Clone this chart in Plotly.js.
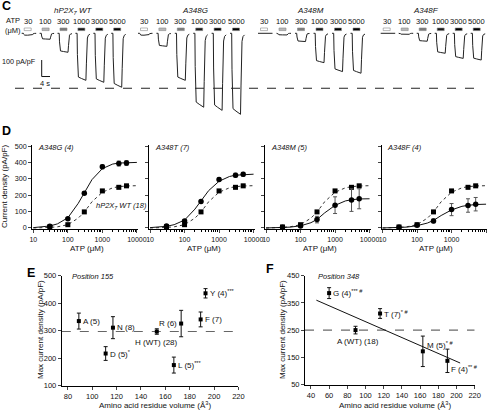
<!DOCTYPE html>
<html><head><meta charset="utf-8">
<script src="https://cdn.plot.ly/plotly-3.0.1.min.js"></script>
<style>html,body{margin:0;padding:0;background:#fff}#chart{width:492px;height:410px}</style>
</head><body><div id="chart"></div>
<script>
// ---------- DATA ----------
// Panel C: example trace peak amplitudes (pA/pF) for each ATP concentration
const concLabels = ['30', '100', '300', '1000', '3000', '5000'];
const groupNames = ['hP2X<sub>7</sub> WT', 'A348G', 'A348M', 'A348F'];
const traceWT = [12, 36, 115, 285, 297, 327];
const traceG  = [12, 79, 285, 448, 467, 491];
const traceM  = [3, 10, 50, 178, 232, 242];
const traceF  = [2, 6, 48, 121, 152, 162];
const dashedRefC = 333;

// Panel D: concentration-response (mean ± SEM)
const atp = [30, 100, 300, 1000, 3000, 5000];
const wtMean = [6, 20, 98, 226, 248, 257];
const wtSem  = [3, 4, 6, 9, 9, 9];
const gMean = [10, 56, 212, 373, 393, 396];
const gSem  = [6, 6, 8, 12, 15, 15];
const tMean = [12, 42, 161, 296, 322, 327];
const tSem  = [5, 6, 8, 10, 12, 12];
const mMean = [4, 12, 51, 139, 170, 178];
const mSem  = [3, 4, 20, 51, 69, 61];
const fMean = [4, 16, 43, 112, 137, 145];
const fSem  = [3, 4, 12, 37, 41, 41];
// fitted curves
const curveX = [10, 20, 30, 50, 100, 200, 300, 500, 1000, 2000, 3000, 5000, 10000];
const fitWT = [0, 1, 3, 7, 20, 60, 97, 160, 218, 245, 252, 256, 258];
const fitG  = [2, 6, 12, 25, 62, 150, 215, 295, 362, 390, 396, 399, 400];
const fitT  = [2, 5, 10, 20, 48, 115, 165, 228, 285, 314, 322, 326, 328];
const fitM  = [0, 1, 3, 5, 13, 32, 52, 92, 138, 165, 172, 177, 178];
const fitF  = [0, 1, 3, 5, 14, 30, 46, 76, 110, 132, 138, 143, 145];
const dTitles = ['A348G (4)', 'A348T (7)', 'A348M (5)', 'A348F (4)'];

// Panel E: position 155
const eLabels = ['A (5)', 'D (5)<sup>*</sup>', 'N (8)', 'H (WT) (28)', 'L (5)<sup>***</sup>', 'R (6)', 'F (7)', 'Y (4)<sup>***</sup>'];
const eVol  = [89, 111, 117, 153, 167, 173, 189, 193];
const eMean = [335, 217, 311, 297, 175, 326, 341, 436];
const eSem  = [29, 25, 40, 10, 29, 48, 27, 17];
const eWT = 297;

// Panel F: position 348
const fLabels = ['G (4)<sup>*** #</sup>', 'A (WT) (18)', 'T (7)<sup>* #</sup>', 'M (5)<sup>* #</sup>', 'F (4)<sup>** #</sup>'];
const fVol  = [60, 89, 116, 163, 190];
const fMeanF = [386, 250, 311, 172, 137];
const fSemF  = [20, 14, 18, 56, 43];
const regX = [46, 204];
const regY = [360, 129];
const fWT = 250;

// ---------- LAYOUT HELPERS ----------
const W = 492, H = 410;
const X = v => v / W;
const Y = v => 1 - v / H;
const FONT = 'Liberation Sans, Arial, sans-serif';
const data = [];
const annotations = [];
const shapes = [];
function txt(text, x, y, opt) {
  annotations.push(Object.assign({text, x: X(x), y: Y(y), xref: 'paper', yref: 'paper',
    showarrow: false, xanchor: 'left', yanchor: 'middle', font: {size: 7.5, family: FONT, color: '#111'}}, opt || {}));
}

// ---------- PANEL C ----------
const cCenters = [[27.7, 17.9], [144, 18.4], [264, 18.5], [386.7, 18.0]];
const cAmps = [traceWT, traceG, traceM, traceF];
const tplDx = [-6, -4.3, -4.0, -3.6, -3.0, 0, 4.5, 5.0, 5.4, 6.0, 7.0, 8.5];
const tplFr = [0, 0, 0.45, 0.88, 0.93, 0.96, 1.0, 0.65, 0.25, 0.10, 0.04, 0.02];
const barFill = ['#ffffff', '#b8b8b8', '#7a7a7a', '#1a1a1a', '#000000', '#000000'];
const groupTitleX = [72.5, 195, 310, 425.5];
cAmps.forEach((amps, g) => {
  const [c0, step] = cCenters[g];
  amps.forEach((a, i) => {
    const c = c0 + step * i;
    data.push({x: tplDx.map(d => c + d), y: tplFr.map(f => -a * f), xaxis: 'x', yaxis: 'y',
      mode: 'lines', line: {color: '#222', width: 1}, hoverinfo: 'skip'});
    txt(concLabels[i], c, 21, {xanchor: 'center'});
    shapes.push({type: 'rect', xref: 'paper', yref: 'paper', x0: X(c - 3.5), x1: X(c + 3.5),
      y0: Y(30.6), y1: Y(28), fillcolor: barFill[i], line: {color: '#888', width: 0.6}});
  });
  txt('<i>' + groupNames[g] + '</i>', groupTitleX[g], 10.5, {xanchor: 'center', font: {size: 8, family: FONT, color: '#111'}});
});
txt('ATP', 4, 20.5);
txt('(μM)', 3, 30.5);
shapes.push({type: 'line', xref: 'x', yref: 'y', x0: 15, x1: 478, y0: -dashedRefC, y1: -dashedRefC,
  line: {color: '#222', width: 1, dash: 'dash'}});
// scale bar
shapes.push({type: 'line', xref: 'x', yref: 'y', x0: 41.7, x1: 41.7, y0: -162, y1: -262, line: {color: '#111', width: 1}});
shapes.push({type: 'line', xref: 'x', yref: 'y', x0: 41.7, x1: 50, y0: -262, y1: -262, line: {color: '#111', width: 1}});
txt('100 pA/pF', 38, 61.5, {xanchor: 'right', font: {size: 7.2, family: FONT, color: '#111'}});
txt('4 s', 45, 84, {xanchor: 'center', font: {size: 7.5, family: FONT, color: '#111'}});
txt('<b>C</b>', 0, 5.5, {font: {size: 12.5, family: FONT, color: '#000'}});

// ---------- PANEL D ----------
const dLefts = [32.3, 149, 265, 381.5];
const dWidth = 105.6;
const dMut = [[gMean, gSem, fitG], [tMean, tSem, fitT], [mMean, mSem, fitM], [fMean, fSem, fitF]];
const minorVals = [];
[10, 100, 1000].forEach(d => { for (let k = 2; k <= 9; k++) minorVals.push(d * k); });
const layoutAxes = {};
dMut.forEach((m, p) => {
  const n = p + 2;
  const xa = 'x' + n, ya = 'y' + n;
  layoutAxes['xaxis' + n] = {type: 'log', range: [0.97, 4.03], domain: [X(dLefts[p]), X(dLefts[p] + dWidth)],
    anchor: ya, showline: true, linecolor: '#000', linewidth: 1, ticks: 'outside', ticklen: 3, tickwidth: 1,
    tickmode: 'array', tickvals: [10, 100, 1000, 10000], ticktext: ['10', '100', '1000', '10000'],
    minor: {tickmode: 'array', tickvals: minorVals, ticks: 'outside', ticklen: 1.5, tickwidth: 1, tickcolor: '#000'},
    showgrid: false, zeroline: false, tickfont: {size: 7, family: FONT, color: '#111'}};
  layoutAxes['yaxis' + n] = {range: [-7, 505], domain: [Y(229.1), Y(145.2)], anchor: xa,
    showline: true, linecolor: '#000', linewidth: 1, ticks: 'outside', ticklen: 3, tickwidth: 1,
    tickmode: 'array', tickvals: [0, 100, 200, 300, 400, 500], showticklabels: p === 0,
    showgrid: false, zeroline: false, tickfont: {size: 7.2, family: FONT, color: '#111'}};
  // WT fit + points
  data.push({x: curveX, y: fitWT, xaxis: xa, yaxis: ya, mode: 'lines', line: {color: '#333', width: 1, dash: 'dot'}, hoverinfo: 'skip'});
  data.push({x: curveX, y: m[2], xaxis: xa, yaxis: ya, mode: 'lines', line: {color: '#111', width: 1}, hoverinfo: 'skip'});
  data.push({x: atp, y: wtMean, xaxis: xa, yaxis: ya, mode: 'markers', cliponaxis: false,
    marker: {symbol: 'square', size: 5, color: '#000'},
    error_y: {type: 'data', array: wtSem, thickness: 1, width: 2, color: '#555'}});
  data.push({x: atp, y: m[0], xaxis: xa, yaxis: ya, mode: 'markers', cliponaxis: false,
    marker: {symbol: 'circle', size: 5.5, color: '#000'},
    error_y: {type: 'data', array: m[1], thickness: 1, width: 2, color: '#555'}});
  txt('<i>' + dTitles[p] + '</i>', dLefts[p] + 3.5, 147.5);
  txt('ATP (μM)', dLefts[p] + dWidth / 2 + 2, 248.5, {xanchor: 'center', font: {size: 8, family: FONT, color: '#111'}});
});
txt('<i>hP2X<sub>7</sub> WT (18)</i>', 94, 206);
txt('Current density (pA/pF)', 5, 187, {xanchor: 'center', textangle: -90, font: {size: 8, family: FONT, color: '#111'}});
txt('<b>D</b>', 0, 130.5, {font: {size: 12.5, family: FONT, color: '#000'}});

// ---------- PANEL E ----------
const axisCommon = {showline: true, linecolor: '#000', linewidth: 1, ticks: 'outside', ticklen: 3, tickwidth: 1,
  showgrid: false, zeroline: false, tickfont: {size: 7.5, family: FONT, color: '#111'}};
layoutAxes.xaxis6 = Object.assign({}, axisCommon, {range: [75, 220], domain: [X(61.8), X(238.4)], anchor: 'y6',
  tickmode: 'linear', tick0: 80, dtick: 20});
layoutAxes.yaxis6 = Object.assign({}, axisCommon, {range: [100, 500], domain: [Y(385.7), Y(275.7)], anchor: 'x6',
  tickmode: 'linear', tick0: 100, dtick: 100});
data.push({x: [75, 220], y: [eWT, eWT], xaxis: 'x6', yaxis: 'y6', mode: 'lines',
  line: {color: '#666', width: 1.2, dash: 'dash'}, hoverinfo: 'skip'});
data.push({x: eVol, y: eMean, xaxis: 'x6', yaxis: 'y6', mode: 'markers', cliponaxis: false,
  marker: {symbol: 'square', size: 4, color: '#000'},
  error_y: {type: 'data', array: eSem, thickness: 1, width: 2, color: '#111'}});
const eAnch = ['r', 'r', 'r', 'b', 'r', 'l', 'r', 'r'];
eLabels.forEach((t, i) => {
  const a = {text: t, x: eVol[i], y: eMean[i], xref: 'x6', yref: 'y6', showarrow: false,
    font: {size: 8, family: FONT, color: '#111'}, yanchor: 'middle'};
  if (eAnch[i] === 'r') { a.xanchor = 'left'; a.xshift = 2; }
  else if (eAnch[i] === 'l') { a.xanchor = 'right'; a.xshift = -2; }
  else { a.xanchor = 'center'; a.yshift = -11; }
  annotations.push(a);
});
txt('<i>Position 155</i>', 70, 276.5, {font: {size: 7.5, family: FONT, color: '#111'}});
txt('Max current density (pA/pF)', 40, 330, {xanchor: 'center', textangle: -90, font: {size: 8, family: FONT, color: '#111'}});
txt('Amino acid residue volume (Å<sup>3</sup>)', 155, 404.5, {xanchor: 'center', font: {size: 8, family: FONT, color: '#111'}});
txt('<b>E</b>', 25, 273, {font: {size: 12.5, family: FONT, color: '#000'}});

// ---------- PANEL F ----------
layoutAxes.xaxis7 = Object.assign({}, axisCommon, {range: [33.5, 220], domain: [X(305), X(474.7)], anchor: 'y7',
  tickmode: 'linear', tick0: 40, dtick: 20});
layoutAxes.yaxis7 = Object.assign({}, axisCommon, {range: [50, 450], domain: [Y(384.5), Y(275.7)], anchor: 'x7',
  tickmode: 'linear', tick0: 50, dtick: 100});
data.push({x: [33.5, 220], y: [fWT, fWT], xaxis: 'x7', yaxis: 'y7', mode: 'lines',
  line: {color: '#444', width: 1, dash: 'dash'}, hoverinfo: 'skip'});
data.push({x: regX, y: regY, xaxis: 'x7', yaxis: 'y7', mode: 'lines', line: {color: '#111', width: 1}, hoverinfo: 'skip'});
data.push({x: fVol, y: fMeanF, xaxis: 'x7', yaxis: 'y7', mode: 'markers', cliponaxis: false,
  marker: {symbol: 'square', size: 4, color: '#000'},
  error_y: {type: 'data', array: fSemF, thickness: 1, width: 2, color: '#111'}});
const fPos = [['r', 0], ['b', -11], ['r', 0], ['r', 6], ['r', -8]];
fLabels.forEach((t, i) => {
  const a = {text: t, x: fVol[i], y: fMeanF[i], xref: 'x7', yref: 'y7', showarrow: false,
    font: {size: 8, family: FONT, color: '#111'}, yanchor: 'middle', yshift: fPos[i][1]};
  if (fPos[i][0] === 'r') { a.xanchor = 'left'; a.xshift = 2; }
  else { a.xanchor = 'center'; a.xshift = 2; }
  annotations.push(a);
});
txt('<i>Position 348</i>', 316, 276.5, {font: {size: 7.5, family: FONT, color: '#111'}});
txt('Max current density (pA/pF)', 282, 330, {xanchor: 'center', textangle: -90, font: {size: 8, family: FONT, color: '#111'}});
txt('Amino acid residue volume (Å<sup>3</sup>)', 395, 404.5, {xanchor: 'center', font: {size: 8, family: FONT, color: '#111'}});
txt('<b>F</b>', 264, 269, {font: {size: 12.5, family: FONT, color: '#000'}});

// ---------- LAYOUT ----------
const layout = Object.assign({
  width: W, height: H, margin: {l: 0, r: 0, t: 0, b: 0}, showlegend: false,
  paper_bgcolor: '#fff', plot_bgcolor: 'rgba(0,0,0,0)',
  font: {family: FONT, size: 7.5, color: '#111'},
  xaxis: {domain: [0, 1], range: [0, 492], visible: false, anchor: 'y', fixedrange: true},
  yaxis: {domain: [Y(130), 1], range: [-586, 201.8], visible: false, anchor: 'x', fixedrange: true},
  annotations, shapes
}, layoutAxes);
Plotly.newPlot('chart', data, layout, {staticPlot: true, displayModeBar: false});
</script></body></html>
